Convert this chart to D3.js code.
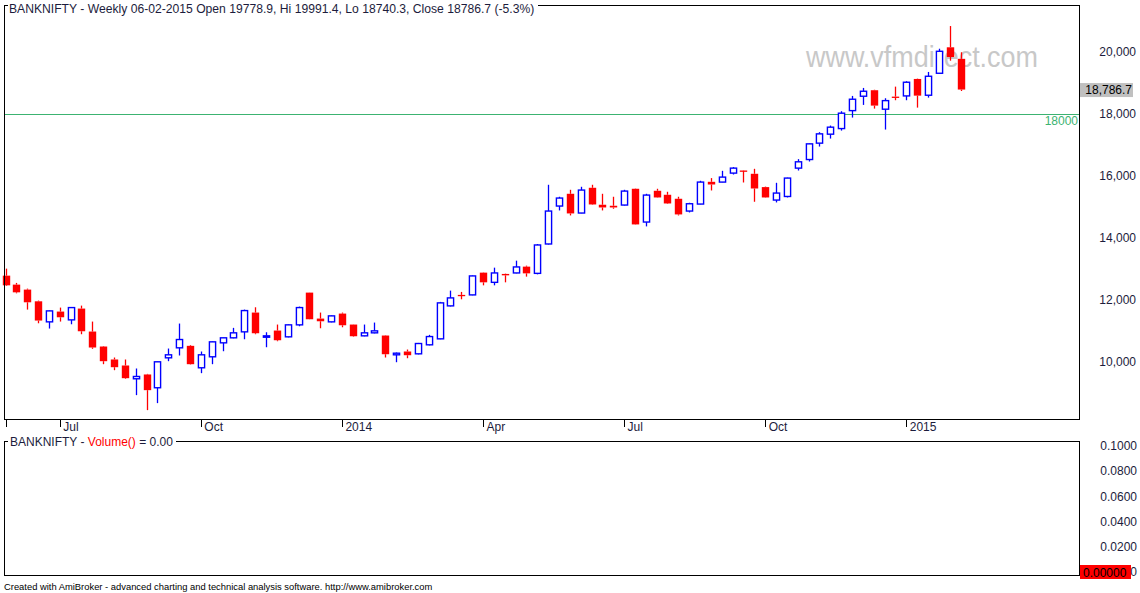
<!DOCTYPE html>
<html lang="en">
<head>
  <meta charset="UTF-8">
  <title>BANKNIFTY - Weekly</title>
  <script src="https://cdnjs.cloudflare.com/ajax/libs/d3/7.8.5/d3.min.js"></script>
  <style>
    html, body {
      margin: 0;
      padding: 0;
      background: #fff;
    }
    svg {
      display: block;
      font-family: "Liberation Sans", Arial, sans-serif;
    }
    .axis text {
      font-size: 12px;
      fill: #1c1c3c;
    }
  </style>
</head>
<body>
  <div id="chart"></div>

  <script>
    // weekly bars, 31-05-2013 .. 06-02-2015
    const open = [12774, 12484, 12323, 11945, 11281, 11613, 11345, 11710, 10968, 10484,
      10065, 9871, 9442, 9581, 9152, 10119, 10442, 10506, 9797, 10152,
      10603, 10765, 10958, 11581, 10784, 11000, 10797, 11184, 12226, 11387,
      11281, 11548, 11194, 10829, 10926, 10839, 10216, 10323, 10248, 10539,
      10732, 11797, 12152, 12152, 12871, 12558, 12829, 12861, 13065, 12848,
      13797, 15023, 15419, 14797, 15613, 15065, 15032, 15055, 15581, 14506,
      15516, 15387, 15258, 14861, 15087, 15806, 15797, 16087, 16171, 16065,
      15635, 15216, 15332, 16248, 16526, 17055, 17345, 17526, 18106, 18571,
      18765, 18152, 18558, 18581, 19129, 18603, 19313, 20152, 19778.9];
    const high = [13000, 12539, 12355, 11968, 11650, 11742, 11760, 11806, 11290, 10500,
      10129, 10065, 9774, 9600, 10000, 10419, 11226, 10530, 10323, 10650,
      10775, 11087, 11677, 11752, 10945, 11194, 11200, 11774, 12230, 11581,
      11490, 11581, 11200, 11194, 11258, 10850, 10290, 10387, 10600, 10861,
      11926, 12290, 12248, 12780, 12880, 13032, 12840, 13258, 13097, 13797,
      15710, 15323, 15548, 15645, 15710, 15419, 15323, 15548, 15590, 15419,
      15581, 15484, 15323, 15129, 15839, 15926, 16161, 16281, 16180, 16226,
      15650, 15774, 15940, 16539, 17050, 17410, 17623, 18087, 18581, 18839,
      18780, 18506, 18881, 19055, 19140, 19355, 20106, 20839, 19991.4];
    const low = [12440, 12203, 11677, 11235, 11065, 11290, 11203, 10881, 10410, 9913,
      9719, 9440, 8913, 8429, 8655, 10010, 10194, 9900, 9623, 9913,
      10332, 10750, 10719, 10881, 10461, 10655, 10780, 11139, 11360, 11074,
      11265, 11106, 10800, 10815, 10910, 10129, 9977, 10106, 10230, 10520,
      10720, 11780, 12010, 12140, 12461, 12461, 12558, 12850, 12742, 12816,
      13780, 14881, 14719, 14790, 15060, 14881, 14935, 15040, 14420, 14365,
      15290, 15090, 14719, 14816, 15080, 15526, 15790, 16042, 15784, 15161,
      15290, 15139, 15300, 16171, 16461, 16945, 17203, 17461, 17881, 18290,
      18171, 17494, 18442, 18442, 18203, 18526, 19300, 19719, 18740.3];
    const close = [12461, 12235, 11913, 11323, 11635, 11429, 11742, 10977, 10452, 10010,
      9816, 9461, 9516, 9074, 9990, 10216, 10710, 9913, 10216, 10635,
      10765, 10926, 11645, 10913, 10829, 10687, 11184, 11742, 11365, 11300,
      11474, 11171, 10816, 10926, 10990, 10235, 10268, 10203, 10581, 10806,
      11894, 12055, 12129, 12765, 12558, 12861, 12784, 13055, 12848, 13765,
      14861, 15281, 14784, 15539, 15074, 14977, 14977, 15506, 14429, 15377,
      15300, 15106, 14752, 15097, 15797, 15719, 15958, 16248, 16152, 15590,
      15300, 15442, 15926, 16452, 17032, 17355, 17571, 18023, 18474, 18732,
      18268, 18429, 18539, 19023, 18590, 19216, 20023, 19838, 18786.7];

    const priceTicks = [10000, 12000, 14000, 16000, 18000, 20000];
    const volumeTicks = [0, 0.02, 0.04, 0.06, 0.08, 0.1];
    const tickDates = ["2013-07-05", "2013-10-04", "2014-01-03", "2014-04-04", "2014-07-04", "2014-10-03", "2015-01-02"];
    const tickLabels = ["Jul", "Oct", "2014", "Apr", "Jul", "Oct", "2015"];
    const levelLine = 18000;
    const lastPrice = 18786.7;

    const weeks = d3.timeFriday.range(new Date(2013, 4, 31), new Date(2015, 1, 7));
    const fmtDay = d3.timeFormat("%Y-%m-%d");

    const width = 1140, height = 593;
    const pane = { left: 4, right: 1079, top: 5, bottom: 419 };
    const volPane = { top: 441, bottom: 575 };

    const svg = d3.select("#chart")
      .append("svg")
        .attr("width", width)
        .attr("height", height);

    const x = d3.scaleLinear().domain([0, weeks.length - 1]).range([5.5, 960.5]);
    const y = d3.scaleLinear().domain([10000, 20000]).range([361.5, 52]);
    const yVol = d3.scaleLinear().domain([0, 0.1]).range([572, 445.7]);

    // watermark sits behind the bars
    svg.append("text")
      .attr("x", 806)
      .attr("y", 67)
      .attr("textLength", 232)
      .attr("lengthAdjust", "spacingAndGlyphs")
      .style("font-size", "29px")
      .style("fill", "#c8c8c8")
      .text("www.vfmdirect.com");

    // 18000 level
    svg.append("line")
      .attr("x1", pane.left).attr("x2", pane.right)
      .attr("y1", Math.round(y(levelLine)) + 0.5).attr("y2", Math.round(y(levelLine)) + 0.5)
      .attr("stroke", "#3cb371")
      .attr("shape-rendering", "crispEdges");
    svg.append("text")
      .attr("x", pane.right - 1)
      .attr("y", y(levelLine) + 11)
      .attr("text-anchor", "end")
      .style("font-size", "12px")
      .style("fill", "#3cb371")
      .text(levelLine);

    // candles
    const bars = weeks.map((w, i) => ({ i, o: open[i], h: high[i], l: low[i], c: close[i] }));
    const bodyW = 7.4;

    const candle = svg.append("g")
      .attr("class", "candles")
      .selectAll("g")
      .data(bars)
      .join("g")
        .attr("stroke", d => d.c >= d.o ? "#0000ff" : "#ff0000");

    candle.append("line")
      .attr("x1", d => Math.round(x(d.i)) + 0.5)
      .attr("x2", d => Math.round(x(d.i)) + 0.5)
      .attr("y1", d => y(d.h))
      .attr("y2", d => y(Math.max(d.o, d.c)))
      .attr("stroke-width", 1.3);

    candle.append("line")
      .attr("x1", d => Math.round(x(d.i)) + 0.5)
      .attr("x2", d => Math.round(x(d.i)) + 0.5)
      .attr("y1", d => y(Math.min(d.o, d.c)))
      .attr("y2", d => y(d.l))
      .attr("stroke-width", 1.3);

    candle.append("rect")
      .attr("x", d => Math.round(x(d.i)) + 0.5 - bodyW / 2 + (d.c >= d.o ? 0.6 : 0))
      .attr("width", d => d.c >= d.o ? bodyW - 1.2 : bodyW)
      .attr("y", d => y(Math.max(d.o, d.c)))
      .attr("height", d => Math.max(1.3, y(Math.min(d.o, d.c)) - y(Math.max(d.o, d.c))))
      .attr("fill", d => d.c >= d.o ? "#fff" : "#ff0000")
      .attr("stroke-width", d => d.c >= d.o ? 1.4 : 0);

    // price pane frame, top edge broken by the title
    const title = svg.append("text")
      .attr("x", 9)
      .attr("y", 13)
      .style("font-size", "12.15px")
      .style("fill", "#1c1c3c")
      .text("BANKNIFTY - Weekly 06-02-2015 Open 19778.9, Hi 19991.4, Lo 18740.3, Close 18786.7 (-5.3%)");
    const titleEnd = 9 + title.node().getComputedTextLength() + 4;

    const frame = svg.append("g")
      .attr("stroke", "#000")
      .attr("shape-rendering", "crispEdges");
    frame.append("path")
      .attr("fill", "none")
      .attr("d", `M${pane.left + 3.5},${pane.top + 0.5}H${pane.left + 0.5}V${pane.bottom + 0.5}H${pane.right + 0.5}V${pane.top + 0.5}H${titleEnd}`);

    // time axis
    const tickIdx = [0].concat(tickDates.map(s => weeks.findIndex(w => fmtDay(w) === s)));
    svg.append("g")
      .attr("class", "axis")
      .attr("transform", `translate(0,${pane.bottom + 0.5})`)
      .call(d3.axisBottom(x)
        .tickValues(tickIdx)
        .tickSize(7)
        .tickFormat((d, k) => k === 0 ? "" : tickLabels[k - 1]))
      .call(g => g.select(".domain").remove())
      .call(g => g.selectAll(".tick line")
        .attr("stroke", "#000")
        .attr("transform", d => `translate(${Math.round(x(d)) - x(d)},0)`)
        .attr("shape-rendering", "crispEdges"))
      .call(g => g.selectAll(".tick text")
        .attr("text-anchor", "start")
        .attr("x", 3)
        .attr("y", 2.5));

    // price axis on the right
    svg.append("g")
      .attr("class", "axis")
      .attr("transform", `translate(${pane.right},0)`)
      .call(d3.axisRight(y)
        .tickValues(priceTicks)
        .tickSize(0)
        .tickFormat(d3.format(",")))
      .call(g => g.select(".domain").remove())
      .call(g => g.selectAll(".tick text")
        .attr("text-anchor", "end")
        .attr("x", 57));

    svg.append("rect")
      .attr("x", 1080).attr("y", y(lastPrice) - 6.5)
      .attr("width", 53).attr("height", 14)
      .attr("fill", "#c0c0c0");
    svg.append("text")
      .attr("x", 1132)
      .attr("y", y(lastPrice) + 4.5)
      .attr("text-anchor", "end")
      .style("font-size", "12px")
      .style("fill", "#000")
      .text(d3.format(",.1f")(lastPrice));

    // volume pane
    const volTitle = svg.append("text")
      .attr("x", 10)
      .attr("y", volPane.top + 5)
      .style("font-size", "12px")
      .style("fill", "#1c1c3c");
    volTitle.append("tspan").text("BANKNIFTY - ");
    volTitle.append("tspan").style("fill", "#ff0000").text("Volume()");
    volTitle.append("tspan").text(" = 0.00");
    const volTitleEnd = 10 + volTitle.node().getComputedTextLength() + 3;

    frame.append("path")
      .attr("fill", "none")
      .attr("d", `M${pane.left + 3.5},${volPane.top + 0.5}H${pane.left + 0.5}V${volPane.bottom + 0.5}H${pane.right + 0.5}V${volPane.top + 0.5}H${volTitleEnd}`);

    svg.append("g")
      .attr("class", "axis")
      .attr("transform", `translate(${pane.right},0)`)
      .call(d3.axisRight(yVol)
        .tickValues(volumeTicks)
        .tickSize(0)
        .tickFormat(d => d === 0 ? "0" : d3.format(".4f")(d)))
      .call(g => g.select(".domain").remove())
      .call(g => g.selectAll(".tick text")
        .attr("text-anchor", "end")
        .attr("x", 58));

    svg.append("rect")
      .attr("x", 1080).attr("y", 565)
      .attr("width", 51).attr("height", 14)
      .attr("fill", "#ff0000");
    svg.append("text")
      .attr("x", 1083)
      .attr("y", 576.5)
      .style("font-size", "12px")
      .style("fill", "#000")
      .text("0.00000");

    svg.append("text")
      .attr("x", 4)
      .attr("y", 589.5)
      .style("font-size", "9.4px")
      .style("fill", "#000")
      .text("Created with AmiBroker - advanced charting and technical analysis software. http://www.amibroker.com");
  </script>
</body>
</html>
